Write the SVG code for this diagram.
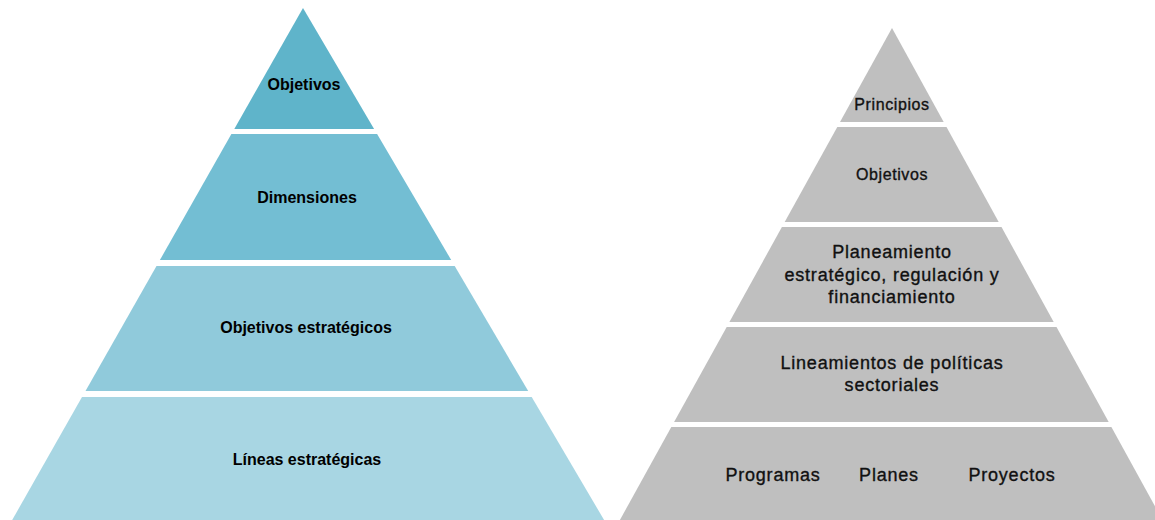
<svg xmlns="http://www.w3.org/2000/svg" width="1155" height="520" viewBox="0 0 1155 520">
<style>
.lt{font-family:"Liberation Sans",Arial,sans-serif;font-weight:bold;font-size:16px;fill:#000;text-anchor:middle}
.rt{font-family:"Liberation Sans",Arial,sans-serif;font-size:18px;fill:#111;stroke:#111;stroke-width:0.35px;text-anchor:middle;letter-spacing:0.8px}
.rs{font-size:16px;letter-spacing:0.6px}
.g{fill:#bfbfbf}
</style>
<rect width="1155" height="520" fill="#fff"/>
<g id="left-pyramid">
<g id="l1"><polygon points="303,8 374.1,129 234.3,129" fill="#5fb4ca"/><text class="lt" x="304" y="90">Objetivos</text></g>
<g id="l2"><polygon points="231.4,134 377.1,134 451.2,260 159.9,260" fill="#73bed3"/><text class="lt" x="307" y="203">Dimensiones</text></g>
<g id="l3"><polygon points="156.5,266 454.7,266 528.2,391 85.5,391" fill="#90cadb"/><text class="lt" x="306" y="333">Objetivos estratégicos</text></g>
<g id="l4"><polygon points="82,397 531.7,397 604.1,520 12.2,520" fill="#a8d6e3"/><text class="lt" x="307" y="465">Líneas estratégicas</text></g>
</g>
<g id="right-pyramid">
<g id="r1"><polygon class="g" points="892,28 943.7,122 840,122"/><text class="rt rs" x="892" y="110">Principios</text></g>
<g id="r2"><polygon class="g" points="837.3,127 946.5,127 998.7,222 784.7,222"/><text class="rt rs" x="892" y="180">Objetivos</text></g>
<g id="r3"><polygon class="g" points="781.9,227 1001.5,227 1053.7,322 729.4,322"/>
<text class="rt" x="892" y="258">Planeamiento</text>
<text class="rt" x="892" y="281">estratégico, regulación y</text>
<text class="rt" x="892" y="303">financiamiento</text></g>
<g id="r4"><polygon class="g" points="726.7,327 1056.5,327 1108.7,422 674.1,422"/>
<text class="rt" x="892" y="369">Lineamientos de políticas</text>
<text class="rt" x="892" y="391">sectoriales</text></g>
<g id="r5"><polygon class="g" points="671.3,427 1111.4,427 1162.6,520 619.9,520"/>
<text class="rt" x="773" y="481">Programas</text>
<text class="rt" x="889" y="481">Planes</text>
<text class="rt" x="1012" y="481">Proyectos</text></g>
</g>
<g id="connectors"/>
</svg>
